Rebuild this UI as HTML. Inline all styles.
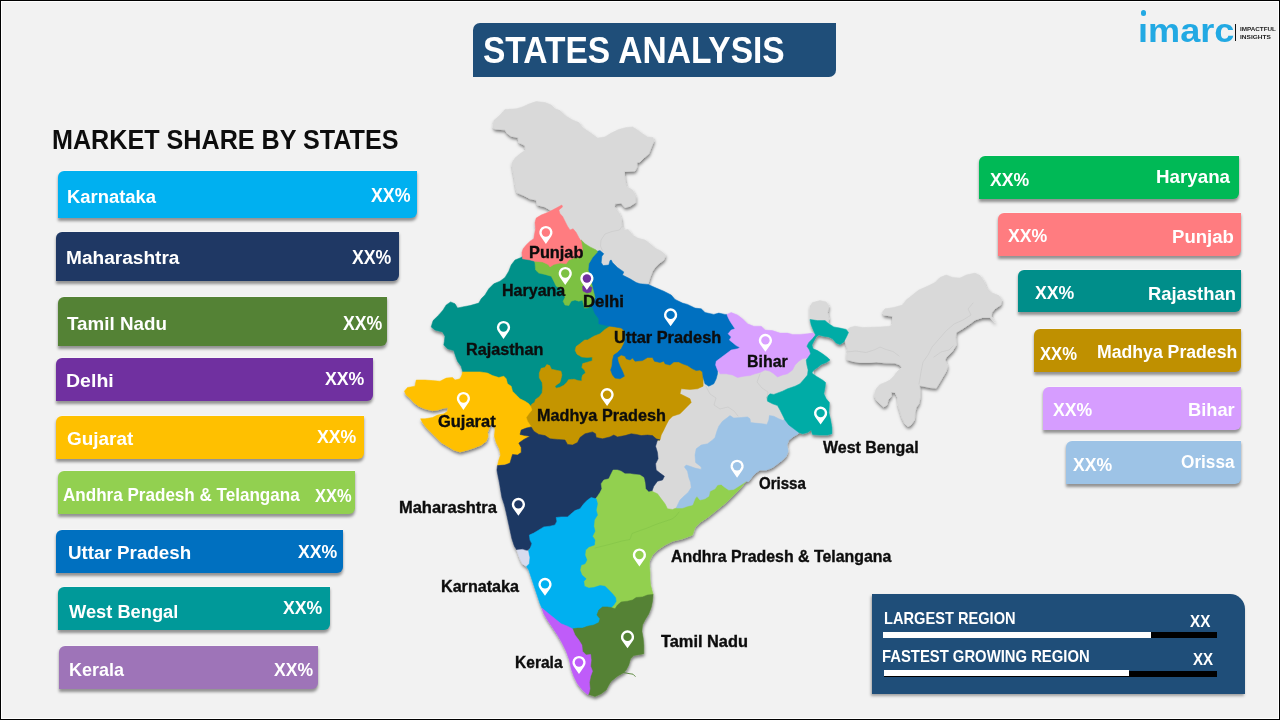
<!DOCTYPE html>
<html lang="en"><head><meta charset="utf-8"><title>States Analysis</title>
<style>
*{box-sizing:border-box;margin:0;padding:0}
html,body{width:1280px;height:720px;overflow:hidden;background:#f2f2f2}
body{position:relative;font-family:"Liberation Sans",sans-serif;font-weight:700}
#frame{position:absolute;left:0;top:0;width:1280px;height:720px;border:1px solid #000;box-shadow:inset 0 0 0 1px #fff;z-index:50;pointer-events:none}
.t{position:absolute;white-space:nowrap;line-height:normal;transform-origin:0 0;font-weight:700}
.ml{-webkit-text-stroke:0.35px #0d0d0d}
.bar{position:absolute;border-radius:6px 0 6px 0;box-shadow:0 2.5px 3px rgba(0,0,0,.4),0 -0.8px 0.6px rgba(255,255,255,.75)}
#title{position:absolute;left:473.1px;top:23.1px;width:362.8px;height:53.6px;background:#1f4e79;border-radius:7px 0 7px 0}
#info{position:absolute;left:872.2px;top:594.2px;width:372.8px;height:99.6px;background:#1f4e79;border-radius:0 15px 0 0;box-shadow:-1px 2px 3px rgba(0,0,0,.35)}
.pb{position:absolute;height:6px}
svg{position:absolute;left:0;top:0}
</style></head><body>
<div id="title"></div>
<div  class="t " style="left:483.49px;top:29.70px;font-size:36.34px;color:#fff;transform:scaleX(0.9225);">STATES ANALYSIS</div>
<div  class="t " style="left:51.66px;top:123.90px;font-size:27.18px;color:#0d0d0d;transform:scaleX(0.9255);">MARKET SHARE BY STATES</div>
<div id="logo" class="t " style="left:1137.57px;top:12.10px;font-size:33.50px;color:#22a9e3;transform:scaleX(1.0777);">imarc</div><div style="position:absolute;left:1138px;top:15.5px;width:9px;height:8.2px;background:#f2f2f2"></div><div style="position:absolute;left:1140.95px;top:10.45px;width:5.5px;height:5.5px;border-radius:50%;background:#22a9e3"></div><div style="position:absolute;left:1234.9px;top:23.8px;width:1.5px;height:17.6px;background:#111"></div><div  class="t " style="left:1239.79px;top:26.00px;font-size:5.96px;color:#222;transform:scaleX(1.0598);">IMPACTFUL</div><div  class="t " style="left:1239.78px;top:33.50px;font-size:5.96px;color:#222;transform:scaleX(1.0969);">INSIGHTS</div>
<svg width="1280" height="720" viewBox="0 0 1280 720">
<defs><filter id="ms" x="-5%" y="-5%" width="110%" height="110%"><feDropShadow dx="0.5" dy="2.3" stdDeviation="1.7" flood-color="#000" flood-opacity="0.5"/></filter></defs>
<g filter="url(#ms)">
<polygon points="493.1,127.5 493.8,120.6 500.0,115.0 505.0,109.4 516.2,108.8 522.5,106.9 529.4,103.8 536.2,101.5 545.0,102.5 551.2,105.0 555.0,108.8 560.0,110.6 565.0,115.6 572.5,120.0 578.8,122.5 582.5,127.5 590.0,132.5 597.5,138.1 605.0,136.9 611.2,133.1 618.8,129.4 626.2,127.5 632.5,126.9 637.5,130.0 642.5,133.8 647.5,136.9 653.1,137.5 653.8,141.2 651.2,147.5 648.8,153.8 643.8,158.1 640.0,161.9 636.9,162.5 636.9,166.9 635.0,171.0 624.4,171.5 624.4,175.0 625.0,180.0 626.2,186.2 632.5,190.0 635.6,196.2 635.6,202.5 630.0,206.2 625.0,207.5 621.2,203.1 615.0,203.8 614.4,206.9 618.8,212.5 621.2,218.8 621.9,226.2 623.8,230.0 628.1,229.4 632.5,235.0 637.5,238.1 645.0,240.0 650.0,243.8 655.0,248.1 661.2,251.2 665.6,255.0 663.8,260.0 658.8,263.8 655.0,267.5 652.5,271.2 650.0,277.5 648.1,283.8 645.0,290.0 615.0,282.0 598.0,268.0 593.0,254.0 585.0,248.0 570.0,238.0 556.0,215.0 561.9,205.0 555.5,209.4 551.5,211.0 545.0,206.9 537.5,205.0 536.2,200.0 530.0,198.8 523.8,195.6 516.9,192.5 515.6,186.2 514.4,177.5 513.1,171.2 511.9,163.1 515.0,158.1 520.0,153.8 525.6,150.0 525.0,145.6 518.8,142.5 518.1,137.5 511.2,136.2 506.9,133.1 505.0,129.8 495.0,129.0" fill="#d9d9d9" stroke="#d9d9d9" stroke-width="0.5" stroke-linejoin="round"/>
<polygon points="710.0,375.0 730.0,365.0 770.0,362.0 808.0,350.0 815.0,380.0 800.0,400.0 790.0,420.0 760.0,435.0 720.0,450.0 700.0,480.0 685.0,500.0 670.0,515.0 655.0,500.0 650.0,480.0 650.0,450.0 655.0,430.0 670.0,410.0 675.0,385.0 700.0,378.0" fill="#d9d9d9" stroke="#d9d9d9" stroke-width="0.5" stroke-linejoin="round"/>
<polygon points="810.0,306.2 812.5,302.5 820.0,300.6 826.2,301.9 828.8,306.2 827.5,312.5 828.8,318.8 828.0,323.0 816.0,323.0 810.0,320.0" fill="#d9d9d9" stroke="#d9d9d9" stroke-width="0.5" stroke-linejoin="round"/>
<polygon points="846.0,331.0 850.0,327.5 855.0,326.2 862.5,327.5 880.0,326.9 890.0,326.2 892.5,323.8 892.5,316.2 883.8,315.0 882.5,311.9 885.0,308.8 893.8,307.5 902.5,305.0 906.2,300.0 912.5,295.0 918.8,290.0 927.5,286.2 935.0,282.5 940.0,277.5 946.2,275.0 952.5,277.5 960.0,278.1 966.2,275.0 975.0,273.1 980.0,275.6 983.8,281.2 986.2,287.5 991.2,292.5 998.8,295.6 1001.9,300.0 1000.6,305.0 995.0,308.8 991.9,312.5 991.2,316.2 995.0,322.5 990.0,317.5 982.5,317.5 975.0,320.0 970.0,323.8 962.5,328.8 956.2,332.5 955.6,337.5 956.2,345.0 952.5,351.2 946.2,357.5 945.0,360.0 947.5,366.2 946.2,371.2 942.5,377.5 938.8,383.8 936.2,388.1 930.0,387.5 923.8,386.2 919.4,385.6 920.0,390.0 920.0,397.5 918.8,403.8 916.2,407.5 915.0,412.5 914.4,420.0 911.0,425.0 908.0,426.5 905.0,424.0 903.1,420.0 901.9,417.5 900.0,411.2 898.1,405.0 897.5,397.5 895.0,392.5 891.2,391.9 891.2,396.2 888.1,400.0 886.9,405.0 883.8,406.9 880.0,403.8 876.2,400.0 874.4,395.0 876.2,388.8 880.0,384.4 885.0,382.5 890.0,380.0 893.8,376.2 897.5,371.2 901.9,367.5 900.0,365.0 895.0,363.1 885.0,362.8 876.2,361.9 870.0,362.5 860.0,362.5 852.5,361.2 846.9,359.4 846.9,355.0 847.5,348.8 845.0,341.2 844.0,336.0" fill="#d9d9d9" stroke="#d9d9d9" stroke-width="0.5" stroke-linejoin="round"/>
<polygon points="521.2,257.5 515.0,260.0 511.2,265.0 508.8,271.2 505.0,277.5 500.0,281.2 493.8,283.8 488.8,288.8 485.0,295.0 481.2,298.8 478.8,303.1 470.0,305.6 462.5,306.9 457.5,308.1 455.0,303.8 450.6,301.9 446.2,305.0 443.1,310.0 438.8,315.0 433.1,320.6 431.2,326.9 435.0,330.0 442.5,331.9 445.0,336.2 444.4,341.2 443.8,345.0 447.5,348.8 453.8,350.6 455.6,356.2 457.5,361.2 461.2,366.2 462.5,371.2 470.0,385.0 530.0,408.0 560.0,392.0 595.0,385.0 600.0,360.0 612.0,328.0 600.0,310.0 595.0,290.0 590.0,250.0 560.0,240.0 530.0,250.0" fill="#009189" stroke="#009189" stroke-width="0.5" stroke-linejoin="round"/>
<polygon points="530.6,406.2 531.7,404.2 534.6,402.3 535.5,399.5 539.3,396.7 542.1,392.9 542.6,387.2 542.1,382.5 539.3,377.8 539.3,373.0 541.2,368.3 544.9,367.4 546.8,364.6 549.7,365.5 551.5,369.3 556.3,370.2 561.0,371.2 561.9,374.9 561.0,378.7 560.0,382.5 557.2,384.4 554.9,386.3 556.3,388.2 560.0,387.2 563.8,385.3 566.7,382.5 568.5,379.7 574.2,379.2 578.0,380.6 581.8,381.1 581.8,377.8 582.7,374.9 585.5,373.0 584.6,370.2 581.8,367.4 582.7,363.6 587.4,362.2 592.2,360.8 592.2,357.0 587.4,357.5 581.8,357.0 577.0,354.2 575.2,350.4 576.1,346.6 579.9,343.8 584.6,340.0 587.5,340.0 593.8,336.2 600.0,333.8 605.0,329.4 610.0,326.2 625.0,321.0 650.0,335.0 700.0,350.0 703.1,378.0 703.1,386.2 697.5,388.8 690.0,389.4 681.2,388.8 680.0,393.8 685.0,396.2 690.0,398.8 691.2,402.5 687.5,406.2 683.8,410.0 680.0,413.8 672.5,416.2 668.8,420.0 666.2,425.0 663.8,430.0 661.2,435.0 660.0,440.0 600.0,450.0 540.0,445.0 520.0,430.0 520.0,410.0" fill="#c49500" stroke="#c49500" stroke-width="0.5" stroke-linejoin="round"/>
<polygon points="597.5,251.2 600.0,250.6 603.8,253.8 601.9,256.2 601.2,262.5 603.1,265.6 608.8,265.0 610.0,260.6 611.2,260.0 612.5,262.5 617.5,267.5 623.8,271.9 622.5,275.0 630.0,278.8 636.2,282.5 640.0,283.8 648.1,284.4 656.2,288.1 663.8,291.2 671.2,295.0 675.0,299.4 682.5,303.1 687.5,304.4 695.0,308.1 701.2,308.8 705.0,312.5 713.8,314.4 718.8,313.1 725.0,314.4 726.9,314.4 740.0,330.0 745.0,345.0 725.0,360.0 717.5,370.0 717.5,373.8 716.2,378.8 713.8,383.8 708.8,386.2 705.0,383.8 703.1,377.5 702.5,371.9 700.0,370.0 696.2,370.6 692.5,368.8 687.5,365.6 682.5,363.8 678.8,361.9 673.8,361.9 670.0,365.0 665.0,363.8 663.8,361.2 660.0,362.5 654.4,361.2 652.5,357.5 647.5,357.5 642.5,360.6 635.0,361.2 632.5,358.1 630.0,360.0 626.2,358.8 625.0,356.2 621.2,355.0 617.5,357.5 618.1,361.2 620.0,366.2 622.5,371.2 624.4,376.2 620.0,378.8 615.0,378.1 612.5,375.0 610.6,370.0 611.9,366.2 612.5,360.0 613.8,355.0 617.5,352.5 621.2,348.8 623.8,343.8 625.6,337.5 625.0,331.2 621.2,328.1 615.0,326.9 610.0,326.2 603.8,325.0 598.8,323.8 598.8,318.8 595.0,313.8 592.5,307.5 585.0,300.0 585.0,260.0" fill="#0070c0" stroke="#0070c0" stroke-width="0.5" stroke-linejoin="round"/>
<polygon points="404.4,391.2 407.5,387.5 415.0,386.2 416.2,380.0 425.0,380.0 432.5,380.6 440.0,381.2 446.2,378.1 452.5,377.5 455.0,380.0 460.0,378.8 461.9,375.0 462.5,371.9 470.0,371.9 480.0,371.9 487.5,373.1 492.5,375.6 498.8,377.5 503.8,376.2 506.2,378.8 507.5,383.8 511.2,386.2 512.5,391.2 516.2,395.0 520.0,398.8 525.0,401.2 528.8,403.8 530.6,406.2 531.9,410.0 528.8,413.8 526.2,417.5 527.5,421.2 530.0,425.0 531.2,426.9 528.0,445.0 520.0,462.0 497.5,465.6 498.8,460.0 500.6,455.0 499.4,448.8 496.2,442.5 494.4,436.2 495.0,430.0 494.4,425.0 491.5,423.5 489.5,427.0 487.5,432.5 488.1,436.2 486.2,441.2 481.2,445.0 475.0,447.5 467.5,450.0 460.0,451.9 453.8,450.0 447.5,446.2 441.2,442.5 436.2,437.5 431.2,432.5 426.2,427.5 422.5,422.5 420.6,418.8 425.0,418.8 432.5,417.5 437.5,415.0 443.8,413.8 447.5,411.2 448.1,407.5 443.8,408.1 437.5,410.0 432.5,410.6 425.0,408.8 418.8,406.2 413.8,402.5 410.0,398.1 406.2,395.0" fill="#ffc000" stroke="#ffc000" stroke-width="0.5" stroke-linejoin="round"/>
<polygon points="497.5,465.6 505.0,465.0 510.0,463.1 511.2,458.8 512.5,454.4 517.5,455.0 521.2,452.5 521.2,447.5 518.8,443.1 523.8,439.4 530.0,436.2 525.0,435.6 520.0,434.4 521.2,430.0 526.2,428.1 531.2,426.9 533.8,431.2 538.8,434.4 545.0,435.6 550.0,438.8 557.5,439.4 565.0,440.0 567.5,444.4 572.5,445.0 577.5,442.5 580.0,437.5 585.0,433.8 592.5,431.9 595.6,433.8 596.2,437.5 602.5,438.8 610.0,436.9 613.8,435.0 617.5,436.9 625.0,435.6 631.2,433.8 636.2,434.4 641.2,435.6 647.5,435.0 652.5,435.6 656.2,438.8 660.0,440.0 657.5,440.0 655.6,446.2 657.5,452.5 658.1,458.8 655.6,463.8 656.2,470.0 660.0,473.1 664.4,476.2 662.5,480.0 657.5,481.2 653.8,486.2 651.9,491.2 640.0,495.0 620.0,490.0 610.0,500.0 580.0,520.0 540.0,540.0 525.0,552.0 516.9,550.0 514.4,546.2 511.9,538.8 510.0,530.0 508.1,521.2 506.2,512.5 504.4,505.0 501.9,497.5 500.6,490.0 499.4,482.5 498.1,476.2 496.9,470.0" fill="#1f3864" stroke="#1f3864" stroke-width="0.5" stroke-linejoin="round"/>
<polygon points="596.2,498.1 597.5,496.2 600.0,492.5 601.9,488.8 601.2,483.8 603.8,480.0 608.8,478.8 611.2,473.8 613.1,470.0 617.5,470.0 621.2,471.2 625.0,473.8 630.0,473.8 635.0,474.4 640.0,475.0 643.8,477.5 645.0,482.5 645.6,488.8 648.8,491.9 651.9,491.2 657.5,493.8 661.2,498.8 665.0,503.8 667.5,508.8 672.5,509.4 676.2,508.1 690.0,495.0 720.0,480.0 745.0,478.0 746.2,481.2 740.0,488.8 732.5,496.2 726.2,502.5 720.0,507.5 713.8,512.5 707.5,517.5 700.0,522.5 695.0,527.5 693.8,531.0 692.5,535.0 682.5,538.8 672.5,541.2 665.0,545.0 657.5,550.0 652.5,555.0 649.5,561.0 649.4,566.2 650.0,572.5 650.0,578.8 650.6,585.0 651.9,590.0 653.1,594.4 640.0,605.0 615.0,612.0 595.0,600.0 570.0,570.0 580.0,530.0 590.0,505.0" fill="#92d050" stroke="#92d050" stroke-width="0.5" stroke-linejoin="round"/>
<polygon points="676.2,508.1 678.1,503.8 680.0,500.0 683.8,496.2 688.1,492.5 691.2,487.5 690.6,482.5 688.8,477.5 687.5,471.2 684.4,466.9 686.2,465.0 690.0,466.2 695.0,468.1 701.2,469.4 701.2,466.9 695.6,462.5 695.0,455.0 696.2,448.8 701.2,445.0 707.5,443.8 712.5,440.0 715.0,437.5 716.9,431.2 718.8,426.2 722.5,421.2 727.5,417.5 730.0,415.6 733.8,418.1 741.2,417.5 747.5,416.9 750.0,418.8 750.6,422.5 755.0,423.1 762.5,423.8 766.9,424.4 768.8,420.0 769.4,415.6 773.8,416.2 778.8,418.8 783.1,420.6 787.0,416.0 795.0,422.0 800.0,430.0 798.1,433.8 793.8,436.2 788.8,440.0 786.9,445.0 788.1,451.2 786.2,456.2 782.5,460.0 777.5,463.8 772.5,467.5 766.2,470.0 760.0,470.0 756.2,472.5 752.5,476.2 748.8,481.2 746.2,481.2 743.8,483.1 738.8,486.2 733.8,489.4 728.8,490.0 725.0,487.5 721.2,484.4 717.5,485.0 715.0,488.8 710.0,491.2 708.8,496.2 705.0,498.8 700.0,500.0 696.9,496.2 695.0,498.8 692.5,505.0 687.5,506.2 682.5,508.1" fill="#9dc3e6" stroke="#9dc3e6" stroke-width="0.5" stroke-linejoin="round"/>
<polygon points="528.1,551.2 530.0,548.8 531.9,543.8 530.0,540.0 529.4,535.0 533.8,533.1 538.8,530.0 543.8,526.9 550.0,526.2 555.0,525.0 556.9,521.2 556.2,517.5 561.2,516.9 567.5,516.9 571.2,513.8 575.0,510.6 580.0,508.8 583.8,503.8 587.5,500.0 591.2,497.5 596.2,498.8 597.5,503.8 596.2,510.0 597.5,515.0 594.4,520.0 593.8,526.2 595.0,531.2 592.5,536.2 595.0,540.0 594.4,545.0 588.8,546.9 585.6,550.0 585.0,555.0 586.9,560.0 585.0,563.8 581.2,565.0 580.0,570.0 581.9,575.0 586.2,578.8 583.8,581.2 584.4,586.2 588.8,588.1 593.8,587.5 600.0,585.6 605.0,586.2 608.8,590.0 612.5,593.8 615.6,597.5 616.2,601.2 613.8,605.0 611.2,607.5 605.0,615.0 595.0,630.0 570.0,635.0 553.0,622.0 545.0,612.0 541.9,608.1 540.0,603.8 537.5,596.2 535.0,588.8 532.5,581.2 530.0,573.8 528.8,570.0 526.2,566.2 523.0,558.0" fill="#00b0f0" stroke="#00b0f0" stroke-width="0.5" stroke-linejoin="round"/>
<polygon points="572.5,628.8 577.5,628.1 582.5,628.1 587.5,626.2 593.8,625.0 598.8,622.5 600.0,618.8 596.9,615.0 598.8,610.0 602.5,606.9 607.5,606.9 611.2,607.5 615.0,608.8 617.5,605.0 621.2,601.9 627.5,601.2 632.5,600.0 636.2,597.5 642.5,596.9 647.5,595.0 653.1,594.4 652.5,601.2 651.2,607.5 648.8,613.8 645.0,620.0 642.5,625.0 641.9,631.2 643.1,637.5 643.8,645.0 643.8,653.8 640.0,654.4 633.8,655.6 630.6,658.8 628.8,665.0 626.2,670.0 623.8,672.5 617.5,676.2 611.2,681.2 608.8,685.0 606.2,690.0 601.2,693.8 595.0,696.5 588.8,694.4 580.0,680.0 575.0,650.0" fill="#548235" stroke="#548235" stroke-width="0.5" stroke-linejoin="round"/>
<polygon points="541.9,608.1 548.8,613.8 555.0,618.8 561.2,623.8 567.5,626.2 572.5,628.8 575.0,635.0 578.8,640.0 581.9,645.0 582.5,651.2 586.2,655.0 590.6,654.4 591.2,660.0 590.6,666.2 592.5,671.2 590.6,676.2 589.4,682.5 590.0,688.8 588.8,693.8 587.5,694.4 582.5,690.0 577.5,683.8 573.8,676.2 571.2,668.8 569.4,660.0 566.2,651.2 561.9,642.5 557.5,635.0 552.5,627.5 547.5,620.0 543.8,613.8" fill="#bf5cf9" stroke="#bf5cf9" stroke-width="0.5" stroke-linejoin="round"/>
<polygon points="516.9,550.0 522.5,549.4 528.1,551.2 529.4,557.5 528.8,563.8 526.2,566.2 522.5,563.8 520.0,558.8" fill="#d6dbee" stroke="#d6dbee" stroke-width="0.5" stroke-linejoin="round"/>
<polygon points="581.2,240.0 585.0,243.8 590.0,246.9 596.2,250.0 597.5,251.9 592.5,257.5 588.8,263.8 588.1,270.0 590.0,275.0 591.2,281.2 592.5,287.5 593.8,292.5 595.0,297.5 592.5,303.8 588.8,307.5 584.4,308.1 583.8,305.0 582.5,300.0 578.8,301.2 575.0,300.0 571.2,301.2 568.8,305.6 565.0,305.0 563.1,301.2 565.0,297.5 563.0,292.0 560.0,288.0 556.2,286.2 553.8,281.2 551.2,276.2 545.0,274.4 538.8,273.1 535.6,270.0 535.0,263.1 534.4,261.2 545.0,255.0 575.0,245.0" fill="#7cc142" stroke="#7cc142" stroke-width="0.5" stroke-linejoin="round"/>
<polygon points="561.9,205.0 562.5,206.9 558.8,210.0 560.0,213.8 562.5,216.2 565.0,221.2 567.5,226.2 570.0,230.0 573.1,228.8 576.2,232.5 578.8,237.5 581.2,241.2 581.9,245.0 582.5,250.0 581.2,256.2 575.0,257.5 568.8,260.0 566.2,263.8 560.0,263.1 553.8,264.4 550.0,266.9 548.1,264.4 542.5,261.9 534.4,261.2 530.0,260.0 522.5,258.8 521.9,252.5 523.1,248.8 526.2,245.0 530.0,241.2 533.8,238.8 534.4,235.0 535.6,228.8 535.0,222.5 536.2,218.1 541.2,215.0 547.5,212.5 552.5,210.0 556.2,208.1" fill="#ff7c80" stroke="#ff7c80" stroke-width="0.5" stroke-linejoin="round"/>
<polygon points="582.5,286.5 586.0,284.5 591.9,287.5 591.0,291.9 587.0,293.0 583.0,291.0" fill="#7030a0" stroke="#7030a0" stroke-width="0.5" stroke-linejoin="round"/>
<polygon points="726.9,314.4 731.2,312.5 737.5,315.0 742.5,318.8 747.5,323.8 753.8,326.2 761.2,326.2 765.0,330.0 772.5,330.6 780.0,333.1 787.5,333.1 792.5,334.4 800.0,334.4 807.5,333.8 812.5,333.1 815.0,334.5 811.0,341.0 808.5,346.0 812.0,352.0 810.0,357.0 808.0,359.5 806.2,358.1 802.5,358.8 798.8,361.2 795.0,365.0 792.5,370.0 787.5,373.8 782.5,375.0 777.5,376.9 773.8,373.8 770.0,371.2 765.0,370.0 760.0,372.5 755.0,373.8 750.0,375.6 743.8,376.2 737.5,377.5 732.5,375.0 726.2,373.8 720.0,373.8 717.5,370.0 715.6,365.0 716.2,361.2 721.2,357.5 726.2,353.8 731.2,350.0 737.5,348.8 740.0,347.5 736.2,345.6 732.5,342.5 729.4,340.0 731.2,336.9 728.1,333.8 731.2,330.0 735.0,328.8 732.5,325.0 730.0,321.2 728.1,317.5" fill="#d9a0ff" stroke="#d9a0ff" stroke-width="0.5" stroke-linejoin="round"/>
<polygon points="810.0,319.4 817.5,320.6 825.0,320.6 828.8,323.8 833.8,326.9 840.0,328.1 846.2,329.4 848.5,332.5 846.2,337.5 843.8,341.9 840.0,344.4 836.2,343.1 832.5,338.8 828.8,336.9 823.8,336.2 818.8,335.0 816.2,336.9 813.8,341.2 811.9,345.0 813.1,348.8 817.5,350.6 822.5,353.8 827.5,357.5 830.0,360.0 826.2,362.5 821.2,364.4 817.5,367.5 813.8,370.0 811.9,373.1 816.2,376.2 822.5,380.0 825.6,382.5 825.0,387.5 823.8,393.8 826.2,398.8 829.4,402.5 828.8,412.5 830.6,420.0 831.9,427.5 831.9,433.8 827.5,435.0 820.0,435.0 812.5,434.4 811.2,430.0 807.5,432.5 802.5,433.8 798.8,432.5 793.8,428.8 788.8,425.0 785.0,420.0 782.5,415.0 780.0,410.0 777.5,405.6 772.5,403.8 767.5,401.2 766.9,396.9 770.0,393.8 773.8,394.4 782.5,391.2 787.5,388.8 795.0,386.2 800.0,383.8 804.4,378.8 807.5,375.0 808.1,370.0 806.9,365.0 806.2,360.0 808.1,357.5 810.6,353.8 809.4,350.0 806.9,346.2 808.8,342.5 812.5,338.8 815.6,335.0 813.8,331.2 811.2,325.0" fill="#04aca6" stroke="#04aca6" stroke-width="0.5" stroke-linejoin="round"/>
</g>
<g fill="none" stroke-linecap="round" stroke-linejoin="round">
<g stroke="#c9c9c9" stroke-width="0.7" opacity="0.9">
<polyline points="621.9,226.5 619.5,230 612,231.5 605,234 601,240 600.5,246 602.5,251"/>
<polyline points="846.5,352 856,351 866,352.5 874,350 880,347 886,349.5 893,351.5 899,356"/>
<polyline points="973,303 968,309 971,315 963,320 954,324 946,331 939,339 932,347 928,355 923,362 921,372 919,384"/>
<polyline points="934,357 941,352 949,350 953,346"/>
<polyline points="706,386.5 710,394 716,398 714,405 720,409 728,407 734,411 738,416"/>
<polyline points="760,374 757,382 762,388 768,392 767,398"/>
</g>
<g stroke="#548235" stroke-width="0.9"><polyline points="623.5,672.5 629,673.6 633,674.2 635.2,676.4"/></g>
<g stroke="#7fbf45" stroke-width="0.7" opacity="0.7">
<polyline points="595,548 603,546 611,544 622,541 630,539.5 632,533.5 640,530.5 646,528.5 652,526 657,524 666,521 672,519 676,516 679,512"/>
</g>
</g>
<g>
<path d="M545.90,243.90 L540.52,236.32 A6.6,6.6 0 1 1 551.28,236.32 Z" fill="#fff"/><circle cx="545.90" cy="232.50" r="4.2" fill="#ff7c80"/>
<path d="M565.25,284.90 L559.87,277.32 A6.6,6.6 0 1 1 570.63,277.32 Z" fill="#fff"/><circle cx="565.25" cy="273.50" r="4.2" fill="#7cc142"/>
<path d="M586.90,289.90 L581.52,282.32 A6.6,6.6 0 1 1 592.28,282.32 Z" fill="#fff"/><circle cx="586.90" cy="278.50" r="4.2" fill="#7030a0"/>
<path d="M503.50,338.90 L498.12,331.32 A6.6,6.6 0 1 1 508.88,331.32 Z" fill="#fff"/><circle cx="503.50" cy="327.50" r="4.2" fill="#009189"/>
<path d="M670.60,326.30 L665.22,318.72 A6.6,6.6 0 1 1 675.98,318.72 Z" fill="#fff"/><circle cx="670.60" cy="314.90" r="4.2" fill="#0070c0"/>
<path d="M765.40,351.80 L760.02,344.22 A6.6,6.6 0 1 1 770.78,344.22 Z" fill="#fff"/><circle cx="765.40" cy="340.40" r="4.2" fill="#d9a0ff"/>
<path d="M463.40,409.90 L458.02,402.32 A6.6,6.6 0 1 1 468.78,402.32 Z" fill="#fff"/><circle cx="463.40" cy="398.50" r="4.2" fill="#ffc000"/>
<path d="M607.10,406.10 L601.72,398.52 A6.6,6.6 0 1 1 612.48,398.52 Z" fill="#fff"/><circle cx="607.10" cy="394.70" r="4.2" fill="#c49500"/>
<path d="M820.60,424.50 L815.22,416.92 A6.6,6.6 0 1 1 825.98,416.92 Z" fill="#fff"/><circle cx="820.60" cy="413.10" r="4.2" fill="#04aca6"/>
<path d="M737.10,477.65 L731.72,470.07 A6.6,6.6 0 1 1 742.48,470.07 Z" fill="#fff"/><circle cx="737.10" cy="466.25" r="4.2" fill="#9dc3e6"/>
<path d="M518.40,515.80 L513.02,508.22 A6.6,6.6 0 1 1 523.78,508.22 Z" fill="#fff"/><circle cx="518.40" cy="504.40" r="4.2" fill="#1f3864"/>
<path d="M639.40,566.40 L634.02,558.82 A6.6,6.6 0 1 1 644.78,558.82 Z" fill="#fff"/><circle cx="639.40" cy="555.00" r="4.2" fill="#92d050"/>
<path d="M545.00,595.80 L539.62,588.22 A6.6,6.6 0 1 1 550.38,588.22 Z" fill="#fff"/><circle cx="545.00" cy="584.40" r="4.2" fill="#00b0f0"/>
<path d="M627.50,648.30 L622.12,640.72 A6.6,6.6 0 1 1 632.88,640.72 Z" fill="#fff"/><circle cx="627.50" cy="636.90" r="4.2" fill="#548235"/>
<path d="M579.00,673.90 L573.62,666.32 A6.6,6.6 0 1 1 584.38,666.32 Z" fill="#fff"/><circle cx="579.00" cy="662.50" r="4.2" fill="#bf5cf9"/>
</g>
</svg>
<div class="bar" style="left:58.10px;top:171.00px;width:358.80px;height:47.10px;background:#00b0f0"></div>
<div  class="t " style="left:67.30px;top:185.90px;font-size:18.75px;color:#fff;transform:scaleX(0.9829);">Karnataka</div>
<div  class="t " style="left:371.07px;top:183.90px;font-size:19.48px;color:#fff;transform:scaleX(0.9143);">XX%</div>
<div class="bar" style="left:56.00px;top:232.10px;width:343.00px;height:48.50px;background:#1f3864"></div>
<div  class="t " style="left:66.26px;top:247.00px;font-size:18.90px;color:#fff;transform:scaleX(1.0095);">Maharashtra</div>
<div  class="t " style="left:352.07px;top:246.00px;font-size:19.48px;color:#fff;transform:scaleX(0.9085);">XX%</div>
<div class="bar" style="left:58.10px;top:297.10px;width:328.90px;height:48.50px;background:#548235"></div>
<div  class="t " style="left:66.71px;top:313.00px;font-size:19.04px;color:#fff;transform:scaleX(0.9872);">Tamil Nadu</div>
<div  class="t " style="left:343.32px;top:312.00px;font-size:19.99px;color:#fff;transform:scaleX(0.8853);">XX%</div>
<div class="bar" style="left:56.00px;top:358.10px;width:316.90px;height:42.50px;background:#7030a0"></div>
<div  class="t " style="left:66.23px;top:369.90px;font-size:18.75px;color:#fff;transform:scaleX(1.0412);">Delhi</div>
<div  class="t " style="left:325.07px;top:368.00px;font-size:19.04px;color:#fff;transform:scaleX(0.9293);">XX%</div>
<div class="bar" style="left:56.25px;top:416.25px;width:307.75px;height:42.50px;background:#ffc000"></div>
<div  class="t " style="left:66.99px;top:428.75px;font-size:18.17px;color:#fff;transform:scaleX(1.0426);">Gujarat</div>
<div  class="t " style="left:317.32px;top:425.90px;font-size:19.11px;color:#fff;transform:scaleX(0.9257);">XX%</div>
<div class="bar" style="left:58.40px;top:471.25px;width:296.60px;height:42.75px;background:#92d050"></div>
<div  class="t " style="left:63.07px;top:483.90px;font-size:18.60px;color:#fff;transform:scaleX(0.9175);">Andhra Pradesh &amp; Telangana</div>
<div  class="t " style="left:315.09px;top:485.90px;font-size:18.17px;color:#fff;transform:scaleX(0.9048);">XX%</div>
<div class="bar" style="left:56.25px;top:530.25px;width:286.65px;height:42.25px;background:#0070c0"></div>
<div  class="t " style="left:68.47px;top:541.75px;font-size:18.53px;color:#fff;transform:scaleX(1.0146);">Uttar Pradesh</div>
<div  class="t " style="left:298.22px;top:540.90px;font-size:19.11px;color:#fff;transform:scaleX(0.9245);">XX%</div>
<div class="bar" style="left:58.40px;top:587.10px;width:271.60px;height:42.65px;background:#009999"></div>
<div  class="t " style="left:69.40px;top:600.75px;font-size:18.53px;color:#fff;transform:scaleX(0.9870);">West Bengal</div>
<div  class="t " style="left:283.22px;top:596.75px;font-size:18.68px;color:#fff;transform:scaleX(0.9461);">XX%</div>
<div class="bar" style="left:59.10px;top:646.00px;width:258.80px;height:42.75px;background:#9e74b8"></div>
<div  class="t " style="left:69.43px;top:658.90px;font-size:18.60px;color:#fff;transform:scaleX(0.9655);">Kerala</div>
<div  class="t " style="left:274.42px;top:658.90px;font-size:19.11px;color:#fff;transform:scaleX(0.9198);">XX%</div>
<div class="bar" style="left:979.00px;top:156.00px;width:259.75px;height:42.75px;background:#00b956"></div>
<div  class="t " style="left:1156.28px;top:166.10px;font-size:18.68px;color:#fff;transform:scaleX(1.0047);">Haryana</div>
<div  class="t " style="left:990.22px;top:168.90px;font-size:18.90px;color:#fff;transform:scaleX(0.9328);">XX%</div>
<div class="bar" style="left:998.40px;top:213.40px;width:242.35px;height:42.50px;background:#ff7c80"></div>
<div  class="t " style="left:1171.54px;top:225.90px;font-size:18.39px;color:#fff;transform:scaleX(1.0103);">Punjab</div>
<div  class="t " style="left:1008.32px;top:224.90px;font-size:18.75px;color:#fff;transform:scaleX(0.9437);">XX%</div>
<div class="bar" style="left:1018.10px;top:270.40px;width:222.65px;height:42.10px;background:#008e8a"></div>
<div  class="t " style="left:1148.40px;top:282.75px;font-size:18.68px;color:#fff;transform:scaleX(0.9851);">Rajasthan</div>
<div  class="t " style="left:1035.07px;top:281.75px;font-size:18.68px;color:#fff;transform:scaleX(0.9474);">XX%</div>
<div class="bar" style="left:1034.10px;top:329.10px;width:206.65px;height:42.50px;background:#bf9000"></div>
<div  class="t " style="left:1097.35px;top:340.90px;font-size:18.75px;color:#fff;transform:scaleX(0.9412);">Madhya Pradesh</div>
<div  class="t " style="left:1039.83px;top:343.00px;font-size:18.53px;color:#fff;transform:scaleX(0.8993);">XX%</div>
<div class="bar" style="left:1043.10px;top:387.25px;width:197.65px;height:42.75px;background:#d69dff"></div>
<div  class="t " style="left:1187.56px;top:398.90px;font-size:18.60px;color:#fff;transform:scaleX(0.9827);">Bihar</div>
<div  class="t " style="left:1053.32px;top:398.60px;font-size:19.04px;color:#fff;transform:scaleX(0.9257);">XX%</div>
<div class="bar" style="left:1066.00px;top:441.25px;width:174.75px;height:42.75px;background:#9dc3e6"></div>
<div  class="t " style="left:1180.81px;top:450.75px;font-size:18.90px;color:#fff;transform:scaleX(0.9104);">Orissa</div>
<div  class="t " style="left:1073.32px;top:453.90px;font-size:19.11px;color:#fff;transform:scaleX(0.9222);">XX%</div>
<div id="info"></div>
<div  class="t " style="left:883.55px;top:609.20px;font-size:17.01px;color:#fff;transform:scaleX(0.8598);">LARGEST REGION</div>
<div  class="t " style="left:1189.85px;top:612.00px;font-size:17.01px;color:#fff;transform:scaleX(0.8978);">XX</div>
<div class="pb" style="left:883px;top:632px;width:333.7px;background:#000"></div>
<div class="pb" style="left:883px;top:632px;width:268.2px;background:#fff"></div>
<div  class="t " style="left:882.34px;top:646.20px;font-size:17.30px;color:#fff;transform:scaleX(0.8583);">FASTEST GROWING REGION</div>
<div  class="t " style="left:1193.15px;top:650.00px;font-size:17.01px;color:#fff;transform:scaleX(0.8843);">XX</div>
<div class="pb" style="left:883.8px;top:670.5px;width:332.9px;background:#000"></div>
<div class="pb" style="left:883.8px;top:670.2px;width:244.9px;background:#fff"></div>
<div  class="t ml" style="left:528.69px;top:243.50px;font-size:15.99px;color:#0d0d0d;transform:scaleX(1.0214);">Punjab</div>
<div  class="t ml" style="left:502.06px;top:280.60px;font-size:16.28px;color:#0d0d0d;transform:scaleX(0.9851);">Haryana</div>
<div  class="t ml" style="left:583.31px;top:292.60px;font-size:15.99px;color:#0d0d0d;transform:scaleX(1.0501);">Delhi</div>
<div  class="t ml" style="left:465.85px;top:339.75px;font-size:16.35px;color:#0d0d0d;transform:scaleX(0.9899);">Rajasthan</div>
<div  class="t ml" style="left:613.77px;top:328.50px;font-size:15.99px;color:#0d0d0d;transform:scaleX(1.0230);">Uttar Pradesh</div>
<div  class="t ml" style="left:747.07px;top:351.50px;font-size:16.72px;color:#0d0d0d;transform:scaleX(0.9524);">Bihar</div>
<div  class="t ml" style="left:438.09px;top:412.50px;font-size:15.84px;color:#0d0d0d;transform:scaleX(1.0401);">Gujarat</div>
<div  class="t ml" style="left:537.05px;top:405.50px;font-size:16.72px;color:#0d0d0d;transform:scaleX(0.9708);">Madhya Pradesh</div>
<div  class="t ml" style="left:822.50px;top:438.00px;font-size:16.72px;color:#0d0d0d;transform:scaleX(0.9566);">West Bengal</div>
<div  class="t ml" style="left:759.40px;top:474.50px;font-size:15.63px;color:#0d0d0d;transform:scaleX(0.9626);">Orissa</div>
<div  class="t ml" style="left:398.93px;top:498.50px;font-size:15.99px;color:#0d0d0d;transform:scaleX(1.0298);">Maharashtra</div>
<div  class="t ml" style="left:670.60px;top:548.00px;font-size:15.99px;color:#0d0d0d;transform:scaleX(0.9931);">Andhra Pradesh &amp; Telangana</div>
<div  class="t ml" style="left:441.45px;top:578.00px;font-size:15.99px;color:#0d0d0d;transform:scaleX(1.0086);">Karnataka</div>
<div  class="t ml" style="left:661.09px;top:632.50px;font-size:15.84px;color:#0d0d0d;transform:scaleX(1.0329);">Tamil Nadu</div>
<div  class="t ml" style="left:515.49px;top:652.50px;font-size:16.35px;color:#0d0d0d;transform:scaleX(0.9515);">Kerala</div>
<div id="frame"></div>
</body></html>
